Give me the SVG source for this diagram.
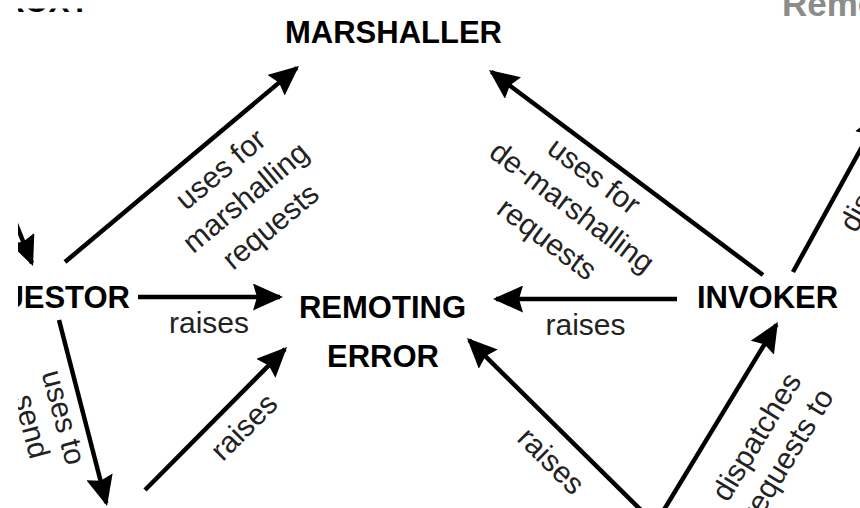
<svg xmlns="http://www.w3.org/2000/svg" width="860" height="508" viewBox="0 0 860 508">
<style>
.node{font-family:"Liberation Sans",Arial,sans-serif;font-weight:bold;font-size:31px;fill:#000;text-anchor:middle}
.lbl{font-family:"Liberation Sans",Arial,sans-serif;font-size:30px;fill:#222;text-anchor:middle}
.edge{stroke:#000;stroke-width:4.5;fill:none;marker-end:url(#ah)}
</style>
<defs>
<marker id="ah" viewBox="0 0 30 27" markerWidth="30" markerHeight="27" refX="27" refY="13.5" orient="auto" markerUnits="userSpaceOnUse">
<path d="M0,0 L30,13.5 L0,27 L4,13.5 Z" fill="#000"/>
</marker>
<clipPath id="view" clipPathUnits="userSpaceOnUse"><rect x="18" y="0" width="842" height="508"/></clipPath>
</defs>
<rect width="860" height="508" fill="#fff"/>
<g clip-path="url(#view)">
<g id="connectors">
<line class="edge" x1="65" y1="262" x2="296.7" y2="67.9"/>
<line class="edge" x1="138" y1="297" x2="280" y2="297"/>
<line class="edge" x1="677" y1="299" x2="496" y2="299"/>
<line class="edge" x1="763" y1="275" x2="491.4" y2="71.8"/>
<line class="edge" x1="793" y1="272" x2="880" y2="114"/>
<line class="edge" x1="59" y1="320" x2="106.3" y2="503"/>
<line class="edge" x1="145" y1="490" x2="284.9" y2="349.1"/>
<line class="edge" x1="652" y1="521" x2="469.1" y2="340.1"/>
<line class="edge" x1="659" y1="518" x2="776.4" y2="324.6"/>
<line class="edge" x1="-30" y1="110" x2="31.9" y2="263.2"/>
</g>
<g id="marshaller"><text class="node" x="393.5" y="43">MARSHALLER</text></g>
<g id="requestor"><text class="node" x="130" y="308" style="text-anchor:end">REQUESTOR</text></g>
<g id="remoting-error"><text class="node" x="382.5" y="318">REMOTING</text><text class="node" x="383" y="367">ERROR</text></g>
<g id="invoker"><text class="node" x="767.5" y="308">INVOKER</text></g>
<g id="remote-object"><text class="node" x="782" y="16" style="text-anchor:start;fill:#8c8c8c;font-size:35px">Remote Object</text></g>
<g id="client-proxy"><text class="node" x="90" y="12" style="text-anchor:end">PROXY</text><rect x="0" y="-30" width="140" height="38.5" fill="#fff"/></g>
<g id="labels">
<text class="lbl" transform="translate(227,177) rotate(-40)">uses for</text>
<text class="lbl" transform="translate(252,205) rotate(-40)">marshalling</text>
<text class="lbl" transform="translate(277,234) rotate(-40)">requests</text>
<text class="lbl" transform="translate(588,184) rotate(37)">uses for</text>
<text class="lbl" transform="translate(566,215) rotate(37)">de-marshalling</text>
<text class="lbl" transform="translate(541,247) rotate(37)">requests</text>
<text class="lbl" x="209" y="333">raises</text>
<text class="lbl" x="585.5" y="335">raises</text>
<text class="lbl" transform="translate(251,434) rotate(-45)">raises</text>
<text class="lbl" transform="translate(544,468) rotate(45)">raises</text>
<text class="lbl" transform="translate(765,442) rotate(-58.7)">dispatches</text>
<text class="lbl" transform="translate(796,460) rotate(-58.7)">requests to</text>
<text class="lbl" transform="translate(54,420) rotate(75)">uses to</text>
<text class="lbl" transform="translate(22,429) rotate(75)">send</text>
<text class="lbl" transform="translate(856,234) rotate(-61)" style="text-anchor:start">dispatches</text>
</g>
</g>
</svg>
